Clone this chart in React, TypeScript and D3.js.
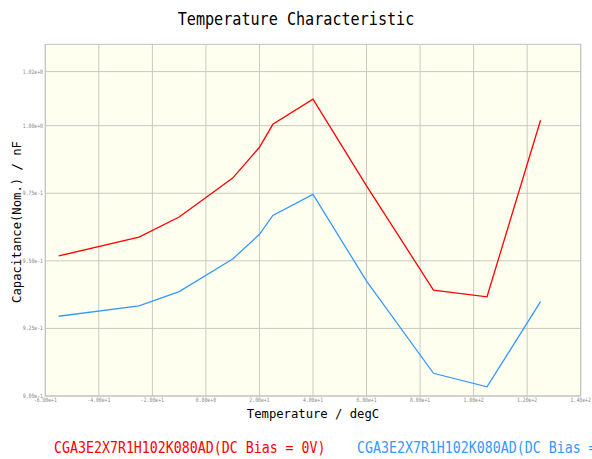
import React from "react";
import * as d3 from "d3";

const temps = [-55, -25, -10, 10, 20, 25, 40, 60, 85, 105, 125];
const capBias0 = [0.9518, 0.9588, 0.9662, 0.9806, 0.992, 1.0005, 1.0098, 0.9777, 0.9392, 0.9367, 1.002];
const capBiasX = [0.9295, 0.9333, 0.9386, 0.9507, 0.9598, 0.9668, 0.9746, 0.9425, 0.9084, 0.9034, 0.9349];
const xTicks = [-60, -40, -20, 0, 20, 40, 60, 80, 100, 120, 140];
const xTickLabels = ["-6.00e+1", "-4.00e+1", "-2.00e+1", "0.00e+0", "2.00e+1", "4.00e+1", "6.00e+1", "8.00e+1", "1.00e+2", "1.20e+2", "1.40e+2"];
const yTicks = [0.9, 0.925, 0.95, 0.975, 1.0, 1.02];
const yTickLabels = ["9.00e-1", "9.25e-1", "9.50e-1", "9.75e-1", "1.00e+0", "1.02e+0"];
const seriesNames = ["CGA3E2X7R1H102K080AD(DC Bias = 0V)", "CGA3E2X7R1H102K080AD(DC Bias = 25V)"];
const seriesColors = ["#ff0000", "#3399ff"];

const W = 592, H = 459;
const M = { left: 45.3, right: 580.7, top: 44.3, bottom: 396 };
const MONO = "'DejaVu Sans Mono', monospace";

function SText({ x, y, size, sx, anchor = "start", fill = "#000", children, rotate = 0, baseline }: any) {
  return (
    <g transform={`translate(${x},${y}) rotate(${rotate}) scale(${sx},1)`}>
      <text x={0} y={0} fontFamily={MONO} fontSize={size} textAnchor={anchor} fill={fill} dominantBaseline={baseline}>
        {children}
      </text>
    </g>
  );
}

export default function App() {
  const x = d3.scaleLinear().domain([-60, 140]).range([M.left, M.right]);
  const y = d3.scaleLinear().domain([0.9, 1.0301]).range([M.bottom, M.top]);
  const line = d3.line<number>().x((_, i) => x(temps[i])).y((d) => y(d));
  const series = [capBias0, capBiasX];
  return (
    <svg width={W} height={H} style={{ position: "absolute", left: 0, top: 0, background: "#fff" }}>
      <rect x={M.left} y={M.top} width={M.right - M.left} height={M.bottom - M.top} fill="#fffff0" />
      {xTicks.map((t) => (
        <line key={"gx" + t} x1={x(t)} x2={x(t)} y1={M.top} y2={M.bottom} stroke="#c8c8c0" strokeWidth={1} />
      ))}
      {yTicks.map((t) => (
        <line key={"gy" + t} x1={M.left} x2={M.right} y1={y(t)} y2={y(t)} stroke="#c8c8c0" strokeWidth={1} />
      ))}
      <rect x={M.left} y={M.top} width={M.right - M.left} height={M.bottom - M.top} fill="none" stroke="#c0c0c0" strokeWidth={1} />
      {series.map((s, i) => (
        <path key={i} d={line(s) || ""} fill="none" stroke={seriesColors[i]} strokeWidth={1.3} />
      ))}
      {xTicks.map((t, i) => (
        <SText key={"xt" + t} x={x(t)} y={402} size={6} sx={0.8} anchor="middle" fill="#888">
          {xTickLabels[i]}
        </SText>
      ))}
      {yTicks.map((t, i) => (
        <SText key={"yt" + t} x={43} y={y(t) + 2} size={6} sx={0.8} anchor="end" fill="#888">
          {yTickLabels[i]}
        </SText>
      ))}
      <SText x={W / 2} y={25} size={17} sx={0.89} anchor="middle">
        Temperature Characteristic
      </SText>
      <SText x={(M.left + M.right) / 2} y={418} size={13} sx={0.94} anchor="middle">
        Temperature / degC
      </SText>
      <SText x={21} y={222} size={13} sx={0.94} anchor="middle" rotate={-90}>
        Capacitance(Nom.) / nF
      </SText>
      <SText x={54} y={453} size={16} sx={0.83} fill={seriesColors[0]}>
        {seriesNames[0]}
      </SText>
      <SText x={357} y={453} size={16} sx={0.83} fill={seriesColors[1]}>
        {seriesNames[1]}
      </SText>
    </svg>
  );
}
